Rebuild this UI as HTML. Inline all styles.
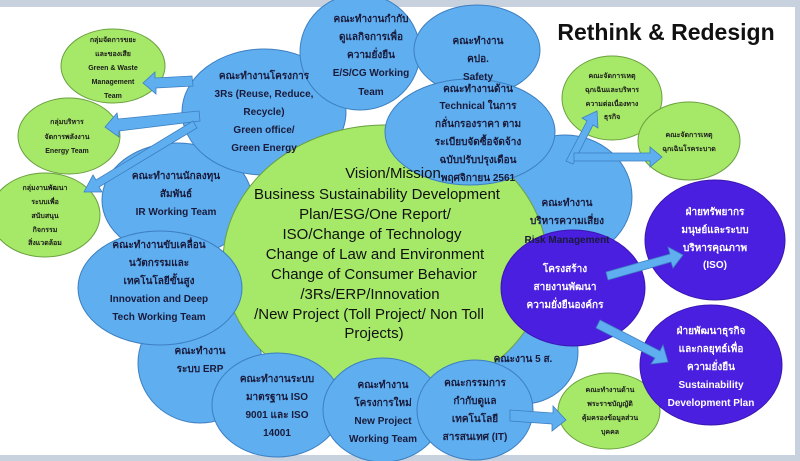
<!DOCTYPE html>
<html><head><meta charset="utf-8"><style>
html,body{margin:0;padding:0;background:#fff;}
svg{display:block;}
text{font-family:"Liberation Sans","Noto Sans CJK SC",sans-serif;font-weight:bold;text-anchor:middle;}
.b{fill:#5eaef0;stroke:#3d7fc0;stroke-width:1;}
.g{fill:#a6e868;stroke:#6aa040;stroke-width:1;}
.p{fill:#4a1fe0;stroke:#3a16b0;stroke-width:1;}
.t{font-size:10px;fill:#1a1a3a;}
.s{font-size:7px;fill:#1a1a1a;}
.w{font-size:10px;fill:#fff;}
.c{font-family:"Liberation Sans","DejaVu Sans",sans-serif;font-weight:normal;font-size:15px;fill:#111;}
.ar{fill:#5eaef0;stroke:#3d7fc0;stroke-width:0.8;}
</style></head><body>
<svg width="800" height="461" viewBox="0 0 800 461">
<rect x="0" y="0" width="800" height="461" fill="#fff"/>
<rect x="0" y="0" width="800" height="7" fill="#c8d2de"/>
<rect x="0" y="455" width="800" height="6" fill="#c8d2de"/>
<rect x="795" y="0" width="5" height="461" fill="#c8d2de"/>

<!-- left greens -->
<ellipse class="g" cx="113" cy="66" rx="52" ry="37"/>
<ellipse class="g" cx="69" cy="136" rx="51" ry="38"/>
<ellipse class="g" cx="45" cy="215" rx="55" ry="42"/>
<!-- right greens -->
<ellipse class="g" cx="612" cy="98" rx="50" ry="42"/>
<ellipse class="g" cx="689" cy="141" rx="51" ry="39"/>
<ellipse class="g" cx="609" cy="411" rx="51" ry="38"/>

<!-- blues behind center -->
<ellipse class="b" cx="177" cy="200" rx="75" ry="57"/>
<ellipse class="b" cx="200" cy="363" rx="62" ry="60"/>
<ellipse class="b" cx="523" cy="352" rx="55" ry="52"/>
<ellipse class="b" cx="565" cy="197" rx="67" ry="62"/>
<ellipse class="b" cx="264" cy="112" rx="82" ry="63"/>

<!-- center -->
<ellipse class="g" cx="385" cy="262" rx="162" ry="137"/>

<ellipse class="b" cx="360" cy="52" rx="60" ry="58"/>
<ellipse class="b" cx="477" cy="50" rx="63" ry="45"/>
<ellipse class="b" cx="470" cy="132" rx="85" ry="53"/>
<ellipse class="b" cx="160" cy="288" rx="82" ry="57"/>
<ellipse class="b" cx="277" cy="405" rx="65" ry="52"/>
<ellipse class="b" cx="383" cy="410" rx="60" ry="52"/>
<ellipse class="b" cx="475" cy="410" rx="58" ry="50"/>

<!-- purples -->
<ellipse class="p" cx="715" cy="240" rx="70" ry="60"/>
<ellipse class="p" cx="711" cy="365" rx="71" ry="60"/>
<ellipse class="p" cx="573" cy="288" rx="72" ry="58"/>

<!-- arrows -->
<polygon class="ar" points="192,76 155,78 155,72 143,83 156,94 156,88 193,86"/>
<polygon class="ar" points="199,111 118,119 117,113 105,127 119,137 119,131 200,121"/>
<polygon class="ar" points="193,121 96,180 93,175 84,192 102,192 99,187 197,128"/>
<polygon class="ar" points="566,161 587,121 582,118 597,111 598,128 593,125 573,164"/>
<polygon class="ar" points="574,153 650,153 650,147 662,157 650,167 650,161 574,161"/>
<polygon class="ar" points="606,272 670,254 668,247 683,255 673,268 671,262 608,280"/>
<polygon class="ar" points="600,320 660,351 663,345 668,362 651,364 655,358 596,328"/>
<polygon class="ar" points="510,410 553,413 553,406 566,420 552,431 552,424 510,421"/>

<!-- title -->
<text x="666" y="40" style="font-size:23px;fill:#111;font-family:'Liberation Sans','DejaVu Sans',sans-serif">Rethink &amp; Redesign</text>

<!-- center text -->
<text class="c" x="393" y="178">Vision/Mission</text>
<text class="c" x="377" y="199">Business Sustainability Development</text>
<text class="c" x="375" y="219">Plan/ESG/One Report/</text>
<text class="c" x="372" y="239">ISO/Change of Technology</text>
<text class="c" x="375" y="259">Change of Law and Environment</text>
<text class="c" x="374" y="279">Change of Consumer Behavior</text>
<text class="c" x="370" y="299">/3Rs/ERP/Innovation</text>
<text class="c" x="369" y="319">/New Project  (Toll Project/ Non Toll</text>
<text class="c" x="374" y="338">Projects)</text>

<!-- blue labels -->
<g class="t">
<text x="264" y="79">คณะทำงานโครงการ</text>
<text x="264" y="97">3Rs (Reuse, Reduce,</text>
<text x="264" y="115">Recycle)</text>
<text x="264" y="133">Green office/</text>
<text x="264" y="151">Green Energy</text>

<text x="371" y="22">คณะทำงานกำกับ</text>
<text x="371" y="40">ดูแลกิจการเพื่อ</text>
<text x="371" y="58">ความยั่งยืน</text>
<text x="371" y="76">E/S/CG Working</text>
<text x="371" y="95">Team</text>

<text x="478" y="44">คณะทำงาน</text>
<text x="478" y="62">คปอ.</text>
<text x="478" y="80">Safety</text>

<text x="478" y="92">คณะทำงานด้าน</text>
<text x="478" y="109">Technical ในการ</text>
<text x="478" y="127">กลั่นกรองราคา ตาม</text>
<text x="478" y="145">ระเบียบจัดซื้อจัดจ้าง</text>
<text x="478" y="163">ฉบับปรับปรุงเดือน</text>
<text x="478" y="181">พฤศจิกายน 2561</text>

<text x="176" y="179">คณะทำงานนักลงทุน</text>
<text x="176" y="197">สัมพันธ์</text>
<text x="176" y="215">IR Working Team</text>

<text x="159" y="248">คณะทำงานขับเคลื่อน</text>
<text x="159" y="266">นวัตกรรมและ</text>
<text x="159" y="284">เทคโนโลยีขั้นสูง</text>
<text x="159" y="302">Innovation and Deep</text>
<text x="159" y="320">Tech Working Team</text>

<text x="200" y="354">คณะทำงาน</text>
<text x="200" y="372">ระบบ ERP</text>

<text x="277" y="382">คณะทำงานระบบ</text>
<text x="277" y="400">มาตรฐาน ISO</text>
<text x="277" y="418">9001 และ ISO</text>
<text x="277" y="436">14001</text>

<text x="383" y="388">คณะทำงาน</text>
<text x="383" y="406">โครงการใหม่</text>
<text x="383" y="424">New Project</text>
<text x="383" y="442">Working Team</text>

<text x="523" y="362">คณะงาน 5 ส.</text>

<text x="475" y="386">คณะกรรมการ</text>
<text x="475" y="404">กำกับดูแล</text>
<text x="475" y="422">เทคโนโลยี</text>
<text x="475" y="440">สารสนเทศ (IT)</text>

<text x="567" y="206">คณะทำงาน</text>
<text x="567" y="224">บริหารความเสี่ยง</text>
<text x="567" y="243">Risk Management</text>
</g>

<g class="w">
<text x="715" y="215">ฝ่ายทรัพยากร</text>
<text x="715" y="233">มนุษย์และระบบ</text>
<text x="715" y="251">บริหารคุณภาพ</text>
<text x="715" y="268">(ISO)</text>

<text x="711" y="334">ฝ่ายพัฒนาธุรกิจ</text>
<text x="711" y="352">และกลยุทธ์เพื่อ</text>
<text x="711" y="370">ความยั่งยืน</text>
<text x="711" y="388">Sustainability</text>
<text x="711" y="406">Development Plan</text>

<text x="565" y="272">โครงสร้าง</text>
<text x="565" y="290">สายงานพัฒนา</text>
<text x="565" y="308">ความยั่งยืนองค์กร</text>
</g>

<g class="s">
<text x="113" y="42">กลุ่มจัดการขยะ</text>
<text x="113" y="56">และของเสีย</text>
<text x="113" y="70">Green &amp; Waste</text>
<text x="113" y="84">Management</text>
<text x="113" y="98">Team</text>

<text x="67" y="124">กลุ่มบริหาร</text>
<text x="67" y="139">จัดการพลังงาน</text>
<text x="67" y="153">Energy Team</text>

<text x="45" y="190">กลุ่มงานพัฒนา</text>
<text x="45" y="204">ระบบเพื่อ</text>
<text x="45" y="218">สนับสนุน</text>
<text x="45" y="232">กิจกรรม</text>
<text x="45" y="245">สิ่งแวดล้อม</text>

<text x="612" y="78">คณะจัดการเหตุ</text>
<text x="612" y="92">ฉุกเฉินและบริหาร</text>
<text x="612" y="106">ความต่อเนื่องทาง</text>
<text x="612" y="119">ธุรกิจ</text>

<text x="689" y="137">คณะจัดการเหตุ</text>
<text x="689" y="151">ฉุกเฉินโรคระบาด</text>

<text x="610" y="392">คณะทำงานด้าน</text>
<text x="610" y="406">พระราชบัญญัติ</text>
<text x="610" y="420">คุ้มครองข้อมูลส่วน</text>
<text x="610" y="434">บุคคล</text>
</g>
</svg>
</body></html>
